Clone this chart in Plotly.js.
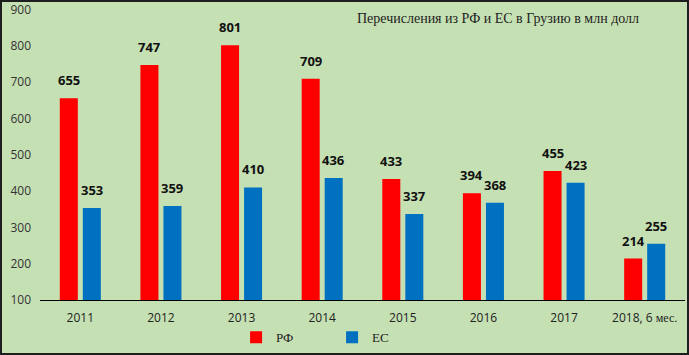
<!DOCTYPE html>
<html><head><meta charset="utf-8">
<script src="https://cdn.plot.ly/plotly-3.0.1.min.js"></script>
<style>
body{margin:0;padding:0;}
#wrap{width:689px;height:355px;box-sizing:border-box;border:2px solid #1e1e1e;background:#c5e0b3;}
#chart{width:685px;height:351px;}
</style></head>
<body><div id="wrap"><div id="chart"></div></div>
<script>
const categories = ["2011","2012","2013","2014","2015","2016","2017","2018, 6 мес."];
const rfValues = [655, 747, 801, 709, 433, 394, 455, 214];
const euValues = [353, 359, 410, 436, 337, 368, 423, 255];
const seriesNames = ["РФ", "ЕС"];
const yTicks = [100,200,300,400,500,600,700,800,900];
const titleText = "Перечисления из РФ и ЕС в Грузию в млн долл";

const tickText = categories.map(c => c.replace("мес.", "<span style='font-family:Liberation Serif;font-size:12px'>мес.</span>"));

const data = [
  {type:'bar', x:categories, y:rfValues, name:seriesNames[0], marker:{color:'#ff0000'}, hoverinfo:'none'},
  {type:'bar', x:categories, y:euValues, name:seriesNames[1], marker:{color:'#0070c0'}, hoverinfo:'none'}
];
const labelFont = {family:'Open Sans, Liberation Sans, sans-serif', size:13, color:'#111', weight:'bold'};
const annotations = [];
[[rfValues,-11.5],[euValues,11.5]].forEach(([vals,dx]) => {
  vals.forEach((v,i) => annotations.push({x:i, y:v, xref:'x', yref:'y', text:String(v), showarrow:false,
    xanchor:'center', yanchor:'bottom', xshift:dx, yshift:7, font:labelFont}));
});
annotations.push({text:titleText, xref:'paper', yref:'paper', x:0.71, y:1.0, xanchor:'center', yanchor:'top',
    showarrow:false, font:{family:'Liberation Serif, serif', size:14, color:'#222'}});

const layout = {
  width:685, height:351,
  margin:{l:38, r:2, t:7, b:53},
  paper_bgcolor:'#c5e0b3', plot_bgcolor:'#c5e0b3',
  barmode:'group', bargap:0.429, bargroupgap:0.217,
  font:{family:'Open Sans, Liberation Sans, sans-serif', size:12, color:'#333'},
  xaxis:{type:'category', range:[-0.5, categories.length-0.5], tickvals:categories, ticktext:tickText, showline:true, linecolor:'#000', linewidth:1, ticks:'', showgrid:false,
    tickfont:{size:12, color:'#222'}, ticklabelstandoff:7},
  yaxis:{range:[100,901], tickvals:yTicks, showgrid:false, zeroline:false, showline:false, ticks:'',
    tickfont:{size:12, color:'#333'}, ticklabelstandoff:8, ticklabeloverflow:'allow'},
  showlegend:true,
  legend:{orientation:'h', x:0.304, y:0.045, xref:'paper', yref:'container', xanchor:'left', yanchor:'middle', bgcolor:'rgba(0,0,0,0)',
    font:{family:'Liberation Serif, serif', size:13, color:'#222'}, entrywidth:51, entrywidthmode:'pixels'},
  annotations:annotations
};
Plotly.newPlot('chart', data, layout, {displayModeBar:false, staticPlot:true});
</script></body></html>
